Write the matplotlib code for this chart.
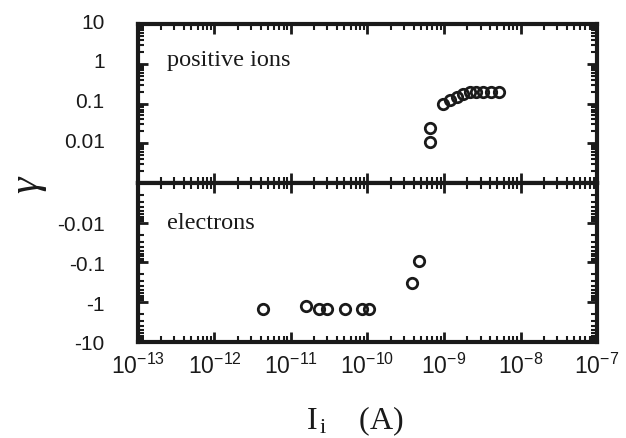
import numpy as np
import matplotlib
matplotlib.use('Agg')
import matplotlib.pyplot as plt
from matplotlib.ticker import LogLocator, FuncFormatter, NullFormatter
from matplotlib.transforms import ScaledTranslation

# ---- data ----
ion_current = [6.6e-10, 6.6e-10, 9.7e-10, 1.2e-9, 1.48e-9, 1.78e-9,
               2.19e-9, 2.6e-9, 3.2e-9, 4.1e-9, 5.2e-9]
ion_gamma = [0.024, 0.011, 0.10, 0.125, 0.15, 0.17,
             0.19, 0.20, 0.20, 0.20, 0.20]

electron_current = [4.3e-12, 1.57e-11, 2.3e-11, 2.96e-11, 5.1e-11,
                    8.5e-11, 1.05e-10, 3.8e-10, 4.7e-10]
electron_gamma = [-1.5, -1.26, -1.5, -1.5, -1.5, -1.5, -1.5, -0.33, -0.094]

ion_yticks = [10, 1, 0.1, 0.01]
ion_yticklabels = ['10', '1', '0.1', '0.01']
electron_yticks = [-0.01, -0.1, -1, -10]
electron_yticklabels = ['-0.01', '-0.1', '-1', '-10']

panel_labels = ['positive ions', 'electrons']

plt.rcParams['font.family'] = ['Liberation Sans', 'DejaVu Sans']
plt.rcParams['mathtext.fontset'] = 'custom'
plt.rcParams['mathtext.rm'] = 'Liberation Serif'
plt.rcParams['mathtext.sf'] = 'Liberation Sans'
plt.rcParams['mathtext.it'] = 'Liberation Serif:italic'

INK = '#1a1a1a'

fig = plt.figure(figsize=(6.26, 4.39), dpi=100)
ax1 = fig.add_axes([0.2204, 0.5809, 0.7333, 0.3621])
ax2 = fig.add_axes([0.2204, 0.2187, 0.7333, 0.3622], sharex=ax1)

ax1.plot(ion_current, ion_gamma, 'o', ms=7.5, mfc='none', mec=INK, mew=2.0)
ax2.plot(electron_current, np.abs(electron_gamma), 'o', ms=7.5, mfc='none',
         mec=INK, mew=2.0)

for ax in (ax1, ax2):
    ax.set_xscale('log')
    ax.set_yscale('log')
    ax.set_xlim(1e-13, 1e-7)
    for sp in ax.spines.values():
        sp.set_linewidth(3.0)
        sp.set_color(INK)
    ax.xaxis.set_major_locator(LogLocator(base=10, numticks=20))
    ax.xaxis.set_minor_locator(LogLocator(base=10, subs=np.arange(2, 10), numticks=100))
    ax.yaxis.set_minor_locator(LogLocator(base=10, subs=np.arange(2, 10), numticks=100))
    ax.yaxis.set_minor_formatter(NullFormatter())
    ax.xaxis.set_minor_formatter(NullFormatter())
    ax.tick_params(which='both', direction='in', top=True, right=True,
                   color=INK, labelcolor=INK, labelsize=15)
    ax.tick_params(which='major', length=7.5, width=2.0)
    ax.tick_params(which='minor', length=4, width=1.5)
    ax.tick_params(axis='y', which='major', pad=24)

ax1.set_ylim(1e-3, 10)
ax1.set_yticks(ion_yticks)
ax1.set_yticklabels(ion_yticklabels)
ax1.tick_params(labelbottom=False)
for lab in ax1.get_yticklabels():
    lab.set_transform(lab.get_transform() + ScaledTranslation(0, 4 / 100, fig.dpi_scale_trans))

ax2.set_ylim(10, 1e-3)
ax2.set_yticks(np.abs(electron_yticks))
ax2.set_yticklabels(electron_yticklabels)
ax2.xaxis.set_major_formatter(
    FuncFormatter(lambda v, p: r'$\mathsf{10^{%d}}$' % int(round(np.log10(v)))))
ax2.tick_params(axis='x', which='major', pad=8, labelsize=16.5)

ax1.text(0.064, 0.745, panel_labels[0], transform=ax1.transAxes,
         family='Liberation Serif', fontsize=17.5, color=INK, va='baseline')
ax2.text(0.064, 0.715, panel_labels[1], transform=ax2.transAxes,
         family='Liberation Serif', fontsize=17.5, color=INK, va='baseline')

fig.text(30 / 626, 1 - 184 / 439, r'$\gamma$', rotation=90, fontsize=30,
         family='Liberation Serif', color=INK, ha='center', va='center')
fig.text(355 / 626, (439 - 429) / 439, r'$\mathrm{I}_{\,\mathrm{i}}$    (A)',
         fontsize=23, family='Liberation Serif', color=INK, ha='center',
         va='baseline')

fig.savefig('out.png', dpi=100, facecolor='white')
